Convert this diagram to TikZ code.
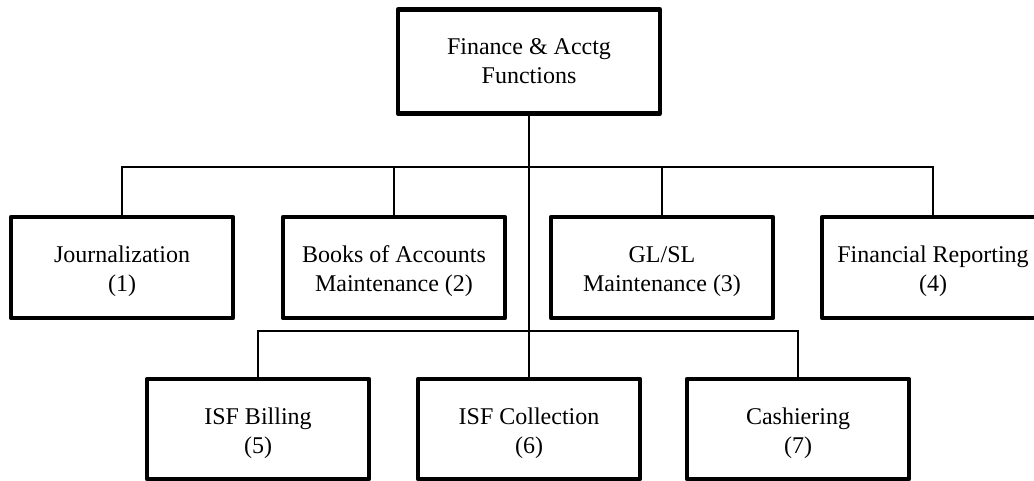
\documentclass[tikz,border=0pt]{standalone}
\usepackage{fontspec}
\setmainfont{Liberation Serif}
% invisible strut that lowers the label a little inside its box
\newcommand{\toppad}{\rule{0pt}{25pt}}
\begin{document}
\begin{tikzpicture}[x=1pt,y=-1pt,
  unitbox/.style={draw, line width=4.3pt, line join=round, rectangle,
    inner sep=0pt, outer sep=0pt, align=center,
    minimum width=222pt, minimum height=101pt,
    font=\fontsize{24}{29}\selectfont},
  link/.style={line width=1.7pt}]
\useasboundingbox (0,0) rectangle (1034,481);

% head of the function
\node[unitbox, minimum width=262pt, minimum height=104pt] (top) at (529,61.5)
  {Finance \& Acctg\\Functions};

% first level
\node[unitbox] (jr) at (122,267.5) {\toppad Journalization\\(1)};
\node[unitbox] (bk) at (394,267.5) {\toppad Books of Accounts\\Maintenance (2)};
\node[unitbox] (gl) at (662,267.5) {\toppad GL/SL\\Maintenance (3)};
\node[unitbox] (fr) at (933,267.5) {\toppad Financial Reporting\\(4)};

% second level
\node[unitbox, minimum height=100pt] (bl) at (258,429) {\toppad ISF Billing\\(5)};
\node[unitbox, minimum height=100pt] (cl) at (529,429) {\toppad ISF Collection\\(6)};
\node[unitbox, minimum height=100pt] (cs) at (798,429) {\toppad Cashiering\\(7)};

% junction points of the connector lines
\coordinate (hubA) at (529,167);
\coordinate (hubB) at (529,331);

% trunk
\draw[link] (top.south) -- (cl.north);

% first-level branches
\draw[link] (jr.north) |- (hubA) -| (fr.north);
\draw[link] (bk.north) -- (bk.north |- hubA);
\draw[link] (gl.north) -- (gl.north |- hubA);

% second-level branches
\draw[link] (bl.north) |- (hubB) -| (cs.north);
\end{tikzpicture}
\end{document}
